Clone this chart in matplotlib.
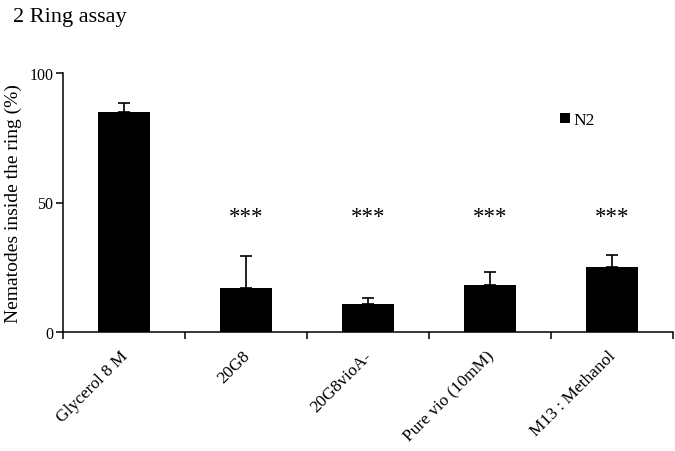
import matplotlib
matplotlib.use("Agg")
import matplotlib.pyplot as plt
from matplotlib.transforms import ScaledTranslation
import numpy as np

plt.rcParams['font.family'] = ['Liberation Serif', 'DejaVu Serif']

categories = ["Glycerol 8 M", "20G8", "20G8vioA-", "Pure vio (10mM)", "M13 : Methanol"]
values = [85.0, 17.1, 10.8, 18.3, 25.1]
errors = [3.5, 12.1, 2.2, 4.9, 4.7]
stars = ["", "***", "***", "***", "***"]
star_level = 44.5
yticks = [0, 50, 100]

fig = plt.figure(figsize=(6.75, 4.52), dpi=100)
ax = fig.add_axes([63/675, 1-333/452, 610/675, 259/452])

x = np.arange(len(categories))
ax.bar(x, values, width=0.42, color='black', label='N2', zorder=2)
ax.errorbar(x, values, yerr=[np.zeros(len(errors)), errors], fmt='none',
            ecolor='black', elinewidth=1.2, capsize=4.5, capthick=1.2, zorder=3)

for xi, s in zip(x, stars):
    if s:
        ax.text(xi, star_level, s, ha='center', va='center', fontsize=16.5)

ax.set_xlim(-0.5, len(categories) - 0.5)
ax.set_ylim(0, 100)
ax.set_yticks(yticks)
ax.set_yticklabels([str(t) for t in yticks], fontsize=11.5)
ax.set_xticks(x)
ax.set_xticklabels(categories, rotation=45, ha='right', rotation_mode='anchor', fontsize=12.5)
ax.set_xticks(np.arange(-0.5, len(categories) + 0.5, 1.0), minor=True)
ax.tick_params(axis='x', which='major', length=0, pad=11)
ax.tick_params(axis='x', which='minor', length=5, width=1.1, direction='out')
ax.tick_params(axis='y', length=5, width=1.1, direction='out', pad=2)
offset = ScaledTranslation(-4/100, 0, fig.dpi_scale_trans)
for lab in ax.get_xticklabels():
    lab.set_transform(lab.get_transform() + offset)

for side in ['top', 'right']:
    ax.spines[side].set_visible(False)
for side in ['left', 'bottom']:
    ax.spines[side].set_linewidth(1.1)

ax.set_ylabel("Nematodes inside the ring (%)", fontsize=14, labelpad=6)
ax.yaxis.set_label_coords(-0.068, 0.5)

leg = ax.legend(loc='upper left', bbox_to_anchor=(0.804, 0.875), frameon=False,
                fontsize=12.5, handlelength=0.55, handleheight=0.55, handletextpad=0.2,
                borderaxespad=0)

fig.text(13/675, 1-22/452, "2 Ring assay", fontsize=16, ha='left', va='baseline')

fig.savefig("out.png", dpi=100)
